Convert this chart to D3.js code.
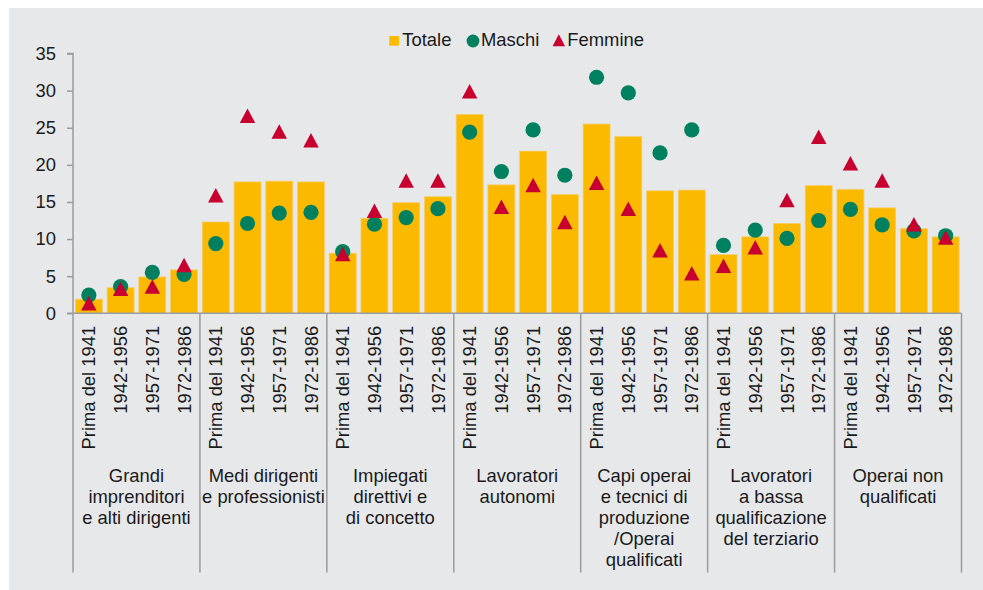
<!DOCTYPE html>
<html>
<head>
<meta charset="utf-8">
<script src="https://cdn.jsdelivr.net/npm/d3@7"></script>
<style>
  body { margin: 0; background: #fff; }
  text { font-family: "Liberation Sans", Arial, sans-serif; fill: #1a1a1a; }
</style>
</head>
<body>
<div id="chartDiv"></div>
<script>
// data
var periods = ["Prima del 1941", "1942-1956", "1957-1971", "1972-1986"];
var groups = [
  ["Grandi", "imprenditori", "e alti dirigenti"],
  ["Medi dirigenti", "e professionisti"],
  ["Impiegati", "direttivi e", "di concetto"],
  ["Lavoratori", "autonomi"],
  ["Capi operai", "e tecnici di", "produzione", "/Operai", "qualificati"],
  ["Lavoratori", "a bassa", "qualificazione", "del terziario"],
  ["Operai non", "qualificati"]
];
var totale  = [1.9, 3.45, 4.9, 5.85,  12.3, 17.7, 17.8, 17.7,  8.1, 12.8, 14.9, 15.7,
               26.8, 17.3, 21.85, 16.0,  25.5, 23.8, 16.5, 16.6,  7.9, 10.3, 12.1, 17.2,
               16.7, 14.2, 11.4, 10.3];
var maschi  = [2.45, 3.6, 5.5, 5.25,  9.4, 12.1, 13.5, 13.6,  8.3, 12.0, 12.9, 14.1,
               24.4, 19.1, 24.7, 18.6,  31.8, 29.7, 21.6, 24.7,  9.15, 11.2, 10.1, 12.5,
               14.0, 11.9, 11.1, 10.45];
var femmine = [1.35, 3.3, 3.6, 6.5,  15.9, 26.6, 24.5, 23.3,  8.0, 13.8, 17.9, 17.9,
               29.9, 14.35, 17.3, 12.3,  17.6, 14.1, 8.5, 5.4,  6.4, 8.9, 15.25, 23.8,
               20.2, 17.9, 12.0, 10.2];
var yTicks = [0, 5, 10, 15, 20, 25, 30, 35];
var legendItems = ["Totale", "Maschi", "Femmine"];

var colors = {bar: "#FBBA00", barEdge: "#F6CE6B", maschi: "#00805F", femmine: "#C8002F",
              axis: "#9B9B9B", panel: "#E7E8EA"};

var W = 983, H = 590;
var margin = {left: 73, right: 983 - 961.5, top: 53.5, bottom: 590 - 313.3};
var fontSize = 18.4;

var svg = d3.select("#chartDiv").append("svg")
    .attr("width", W).attr("height", H);

svg.append("rect").attr("x", 9).attr("y", 8)
    .attr("width", W - 9).attr("height", H - 8)
    .attr("fill", colors.panel);

var idx = d3.range(totale.length);

var x_scale = d3.scaleBand()
    .domain(idx)
    .range([margin.left, W - margin.right])
    .paddingInner(0.15)
    .paddingOuter(0.075);

var y_scale = d3.scaleLinear()
    .domain([0, 35])
    .range([H - margin.bottom, margin.top]);

var groupW = (W - margin.right - margin.left) / groups.length;
var baseY = y_scale(0);
var dividerBottom = 572.5;

// bars
svg.append("g").selectAll("rect").data(idx).enter().append("rect")
    .attr("x", function(i) { return x_scale(i); })
    .attr("y", function(i) { return y_scale(totale[i]); })
    .attr("width", x_scale.bandwidth())
    .attr("height", function(i) { return baseY - y_scale(totale[i]); })
    .attr("fill", colors.bar)
    .attr("stroke", colors.barEdge)
    .attr("stroke-width", 0.8);

// y axis
var yAxis = svg.append("g")
    .attr("transform", "translate(" + margin.left + ",0)")
    .call(d3.axisLeft(y_scale).tickValues(yTicks).tickSize(6).tickPadding(11).tickFormat(d3.format("d")));
yAxis.select(".domain").attr("stroke", colors.axis).attr("stroke-width", 1.5)
    .attr("d", "M-6," + y_scale(35) + "H0V" + dividerBottom);
yAxis.selectAll(".tick line").attr("stroke", colors.axis).attr("stroke-width", 1.5);
yAxis.selectAll(".tick text").style("font-size", fontSize + "px")
    .style("font-family", "'Liberation Sans', Arial, sans-serif").attr("fill", "#1a1a1a");

// x axis line and group dividers
svg.append("line")
    .attr("x1", margin.left - 6).attr("x2", W - margin.right)
    .attr("y1", baseY).attr("y2", baseY)
    .attr("stroke", colors.axis).attr("stroke-width", 1.5);

svg.append("g").selectAll("line").data(d3.range(1, groups.length + 1)).enter().append("line")
    .attr("x1", function(g) { return margin.left + g * groupW; })
    .attr("x2", function(g) { return margin.left + g * groupW; })
    .attr("y1", baseY).attr("y2", dividerBottom)
    .attr("stroke", colors.axis).attr("stroke-width", 1.5);

// rotated period labels
svg.append("g").selectAll("text").data(idx).enter().append("text")
    .text(function(i) { return periods[i % periods.length]; })
    .attr("text-anchor", "end")
    .attr("dy", "0.36em")
    .style("font-size", fontSize + "px")
    .attr("transform", function(i) {
      return "translate(" + (x_scale(i) + x_scale.bandwidth() / 2) + "," + (baseY + 12.5) + ") rotate(-90)";
    });

// group labels
var gLabels = svg.append("g").selectAll("text").data(groups).enter().append("text")
    .attr("text-anchor", "middle")
    .style("font-size", fontSize + "px")
    .attr("x", function(d, g) { return margin.left + (g + 0.5) * groupW; })
    .attr("y", 481.5);
gLabels.selectAll("tspan").data(function(d, g) {
      return d.map(function(line) { return {line: line, g: g}; });
    }).enter().append("tspan")
    .attr("x", function(d) { return margin.left + (d.g + 0.5) * groupW; })
    .attr("dy", function(d, k) { return k === 0 ? 0 : 21; })
    .text(function(d) { return d.line; });

// markers
function triPath(cx, cy, w, h) {
  return "M" + cx + "," + (cy - h / 2) + "L" + (cx + w / 2) + "," + (cy + h / 2) +
         "L" + (cx - w / 2) + "," + (cy + h / 2) + "Z";
}

svg.append("g").selectAll("circle").data(idx).enter().append("circle")
    .attr("cx", function(i) { return x_scale(i) + x_scale.bandwidth() / 2; })
    .attr("cy", function(i) { return y_scale(maschi[i]); })
    .attr("r", 7.6)
    .attr("fill", colors.maschi);

svg.append("g").selectAll("path").data(idx).enter().append("path")
    .attr("d", function(i) {
      return triPath(x_scale(i) + x_scale.bandwidth() / 2, y_scale(femmine[i]), 15.5, 14.5);
    })
    .attr("fill", colors.femmine);

// legend
var legY = 41;
var legend = svg.append("g");
legend.append("rect").attr("x", 389.3).attr("y", legY - 5).attr("width", 9.7).attr("height", 9.7)
    .attr("fill", colors.bar);
legend.append("text").attr("x", 402.3).attr("y", legY + 4.8).style("font-size", fontSize + "px").text(legendItems[0]);
legend.append("circle").attr("cx", 473).attr("cy", legY).attr("r", 6.4).attr("fill", colors.maschi);
legend.append("text").attr("x", 481).attr("y", legY + 4.8).style("font-size", fontSize + "px").text(legendItems[1]);
legend.append("path").attr("d", triPath(558.8, legY - 0.7, 12.5, 12)).attr("fill", colors.femmine);
legend.append("text").attr("x", 567.3).attr("y", legY + 4.8).style("font-size", fontSize + "px").text(legendItems[2]);
</script>
</body>
</html>
